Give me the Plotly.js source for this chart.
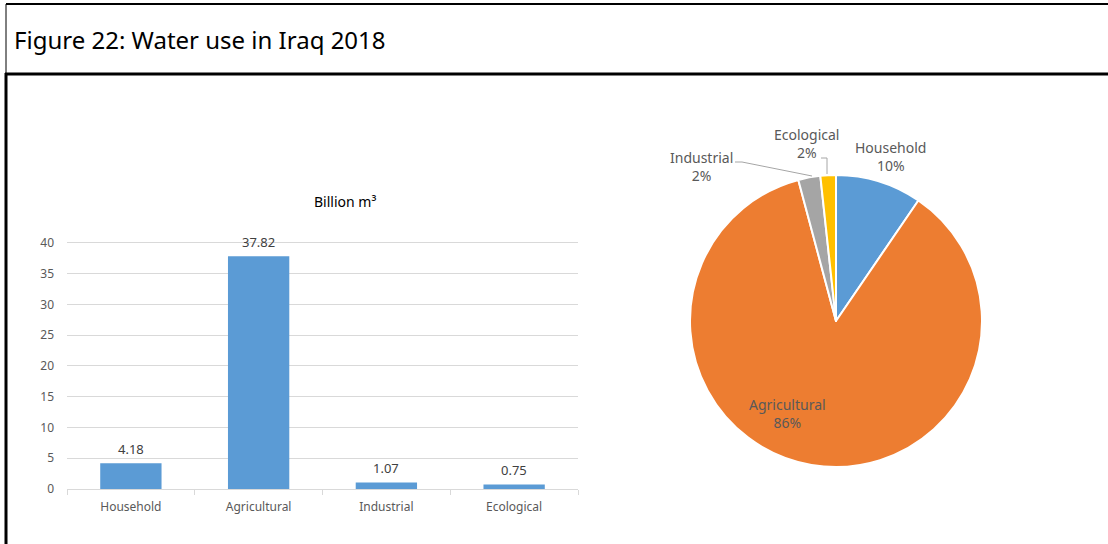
<!DOCTYPE html>
<html>
<head>
<meta charset="utf-8">
<script src="https://cdn.plot.ly/plotly-3.0.1.min.js"></script>
<style>
  html, body { margin: 0; padding: 0; background: #fff; }
  #chart { width: 1108px; height: 544px; }
</style>
</head>
<body>
<div id="chart"></div>
<script>
// ---- data ----
const categories = ["Household", "Agricultural", "Industrial", "Ecological"];
const waterUse = [4.18, 37.82, 1.07, 0.75];
const valueLabels = ["4.18", "37.82", "1.07", "0.75"];
const sliceColors = ["#5B9BD5", "#ED7D31", "#A5A5A5", "#FFC000"];
const yTicks = [0, 5, 10, 15, 20, 25, 30, 35, 40];
const figureTitle = "Figure 22: Water use in Iraq 2018";
const unitTitle = "Billion m³";

// ---- helpers (pixel -> paper) ----
const W = 1108, H = 544;
const px = x => x / W;
const py = y => 1 - y / H;
const FONT = "Noto Sans, Open Sans, sans-serif";

const total = waterUse.reduce((a, b) => a + b, 0);
const pct = waterUse.map(v => Math.round(100 * v / total) + "%");

const barTrace = {
  type: "bar",
  x: categories,
  y: waterUse,
  marker: { color: sliceColors[0] },
  width: 0.48,
  xaxis: "x", yaxis: "y",
  hoverinfo: "x+y",
  showlegend: false
};

const pieTrace = {
  type: "pie",
  labels: categories,
  values: waterUse,
  sort: false,
  direction: "clockwise",
  rotation: 0,
  marker: { colors: sliceColors, line: { color: "#ffffff", width: 2 } },
  textinfo: "none",
  domain: { x: [px(690), px(982)], y: [py(467), py(175)] },
  showlegend: false
};

const annotations = [];
annotations.push({
  xref: "paper", yref: "paper", x: px(12), y: py(40),
  xanchor: "left", yanchor: "middle", showarrow: false,
  text: figureTitle, font: { family: FONT, size: 24, color: "#000" }
});
annotations.push({
  xref: "paper", yref: "paper", x: px(345), y: py(201),
  xanchor: "center", yanchor: "middle", showarrow: false,
  text: unitTitle, font: { family: FONT, size: 14, color: "#000" }
});
categories.forEach((c, i) => {
  annotations.push({
    xref: "x", yref: "y", x: c, y: waterUse[i],
    xanchor: "center", yanchor: "bottom", yshift: 3, showarrow: false,
    text: valueLabels[i], font: { family: FONT, size: 13, color: "#404040" }
  });
});
const pieLabelPos = [[890, 156], [787, 413], [701, 166], [806, 143]];
categories.forEach((c, i) => {
  annotations.push({
    xref: "paper", yref: "paper", x: px(pieLabelPos[i][0]), y: py(pieLabelPos[i][1]),
    xanchor: "center", yanchor: "middle", showarrow: false,
    text: c + "<br>" + pct[i], align: "center",
    font: { family: FONT, size: 14, color: "#595959" }
  });
});

const line = (x0, y0, x1, y1, w, col) => ({
  type: "line", xref: "paper", yref: "paper",
  x0: px(x0), y0: py(y0), x1: px(x1), y1: py(y1),
  line: { color: col, width: w }
});

const shapes = [
  line(6, 4, 1108, 4, 2, "#000"),
  line(6, 4, 6, 73, 1, "#000"),
  line(5, 74, 1108, 74, 3, "#000"),
  line(6, 73, 6, 544, 3, "#000"),
  line(735, 162, 742, 162, 1, "#A6A6A6"),
  line(742, 162, 812, 176, 1, "#A6A6A6"),
  line(821, 158, 827, 158, 1, "#A6A6A6"),
  line(827, 158, 827, 174, 1, "#A6A6A6")
];

const layout = {
  width: W, height: H,
  margin: { l: 0, r: 0, t: 0, b: 0 },
  paper_bgcolor: "#fff", plot_bgcolor: "#fff",
  font: { family: FONT },
  xaxis: {
    domain: [px(67), px(578)],
    anchor: "y",
    showline: true, linecolor: "#D9D9D9", linewidth: 1,
    ticks: "outside", tickson: "boundaries", ticklen: 5, tickcolor: "#D9D9D9",
    showgrid: false,
    tickfont: { family: FONT, size: 12, color: "#595959" },
    ticklabelstandoff: 7
  },
  yaxis: {
    domain: [py(489), py(241)],
    anchor: "x",
    range: [0, 40.3],
    tickvals: yTicks,
    showgrid: true, gridcolor: "#D9D9D9", gridwidth: 1,
    zeroline: false, showline: false,
    tickfont: { family: FONT, size: 12, color: "#595959" },
    ticklabelstandoff: 12
  },
  annotations: annotations,
  shapes: shapes
};

Plotly.newPlot("chart", [barTrace, pieTrace], layout, { displayModeBar: false });
</script>
</body>
</html>
